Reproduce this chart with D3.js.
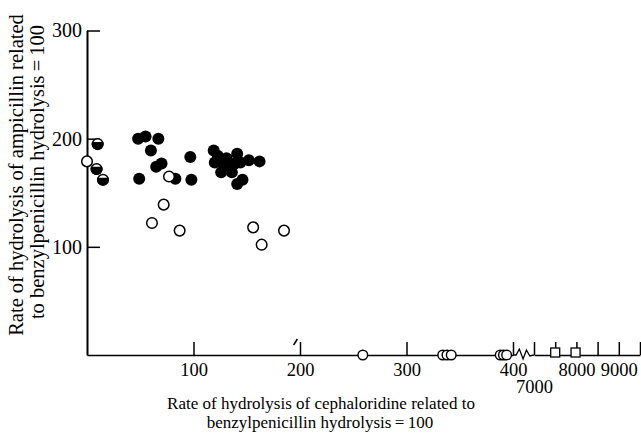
<!DOCTYPE html>
<html>
<head>
<meta charset="utf-8">
<script src="https://cdn.jsdelivr.net/npm/d3@7"></script>
<style>
  html, body { margin: 0; padding: 0; background: #fff; }
  svg { display: block; font-family: "Liberation Serif", "DejaVu Serif", serif; }
</style>
</head>
<body>
<svg id="chart" width="641" height="438"></svg>
<script>
// Strains: [cephaloridine rate, ampicillin rate], both relative to benzylpenicillin = 100
const filledPoints = [
  [48, 200], [55, 202], [60, 189], [67, 200], [65, 174], [70, 177],
  [97, 183], [49, 163], [83, 163], [98, 162],
  [119, 189], [123, 184], [120, 178], [128, 177], [126, 169], [133, 174],
  [136, 169], [141, 186], [139, 177], [144, 178], [152, 180], [162, 179],
  [141, 158], [146, 162], [131, 182]
];
const openPoints = [
  [0, 179], [77, 165], [72, 139], [61, 122], [87, 115],
  [156, 118], [164, 102], [185, 115]
];
const halfPoints = [[10, 195], [9, 172], [15, 162]];
// Strains with no measurable ampicillin hydrolysis, lying on the x axis
const zeroPoints = [259, 334, 338, 342, 388, 391, 394];
const zeroHighPoints = [7500, 7980];

const xTicksLow = [100, 200, 300, 400];
const xTicksHigh = [7000, 7500, 8000, 8500, 9000, 9500];
const xLabelsHigh = [7000, 8000, 9000];
const yTicks = [100, 200, 300];

const xTitle = ["Rate of hydrolysis of cephaloridine related to", "benzylpenicillin hydrolysis\u2009=\u2009100"];
const yTitle = ["Rate of  hydrolysis of ampicillin related", "to benzylpenicillin hydrolysis\u2009=\u2009100"];

const svg = d3.select("#chart");

const x = d3.scaleLinear().domain([0, 400]).range([87, 513]);
const x2 = d3.scaleLinear().domain([7000, 9500]).range([534, 640]);
const y = d3.scaleLinear().domain([0, 300]).range([355, 30.5]);

// Lower part of the x axis
const gx = svg.append("g").attr("transform", `translate(0,${y(0)})`)
  .call(d3.axisBottom(x).tickValues(xTicksLow).tickSizeInner(-13).tickSizeOuter(0).tickPadding(8));
// Upper part of the x axis, beyond the break
const gx2 = svg.append("g").attr("transform", `translate(0,${y(0)})`)
  .call(d3.axisBottom(x2).tickValues(xTicksHigh).tickSizeInner(-13).tickSizeOuter(0).tickPadding(8)
    .tickFormat(d => xLabelsHigh.includes(d) ? String(d) : ""));

const gy = svg.append("g").attr("transform", `translate(${x(0)},0)`)
  .call(d3.axisLeft(y).tickValues(yTicks).tickSizeInner(-13).tickSizeOuter(0).tickPadding(5));

[gx, gx2, gy].forEach(g => {
  g.selectAll("text").attr("font-family", "Liberation Serif").attr("font-size", "18.5px").attr("fill", "#000");
  g.selectAll("line").attr("stroke", "#000").attr("stroke-width", 1.5);
  g.select(".domain").attr("stroke", "#000").attr("stroke-width", 1.6);
});
gy.selectAll("text").attr("font-size", "20px");
gy.select(".domain").attr("stroke-width", 2);
// The 7000 label sits one line lower, under the break
gx2.selectAll(".tick").filter(d => d === 7000).select("text").attr("y", 25);

// Zigzag marking the scale break
const y0 = y(0);
const xa = x(400), xb = x2(7000);
const w = xb - xa;
svg.append("path")
  .attr("d", d3.line()([
    [xa, y0], [xa + w * 0.15, y0], [xa + w * 0.3, y0 - 6], [xa + w * 0.48, y0 + 4],
    [xa + w * 0.64, y0 - 5], [xa + w * 0.8, y0 + 1], [xb, y0]
  ]))
  .attr("fill", "none").attr("stroke", "#000").attr("stroke-width", 1.3);

// Small slash by the 200 tick
svg.append("line")
  .attr("x1", x(194)).attr("y1", y0 - 10)
  .attr("x2", x(197.5)).attr("y2", y0 - 16)
  .attr("stroke", "#000").attr("stroke-width", 1.5);

const r = 6;

svg.append("g").selectAll("circle").data(filledPoints).join("circle")
  .attr("cx", d => x(d[0])).attr("cy", d => y(d[1])).attr("r", r)
  .attr("fill", "#000");

svg.append("g").selectAll("circle").data(openPoints).join("circle")
  .attr("cx", d => x(d[0])).attr("cy", d => y(d[1])).attr("r", r - 0.7)
  .attr("fill", "#fff").attr("stroke", "#000").attr("stroke-width", 1.5);

// Half-filled markers: outlined circle with the lower part filled
const defs = svg.append("defs");
halfPoints.forEach((d, i) => {
  defs.append("clipPath").attr("id", "half" + i)
    .append("rect")
    .attr("x", x(d[0]) - r - 1).attr("y", y(d[1]) - r * 0.35)
    .attr("width", 2 * r + 2).attr("height", 2 * r);
});
const gh = svg.append("g");
gh.selectAll("circle.ring").data(halfPoints).join("circle")
  .attr("class", "ring")
  .attr("cx", d => x(d[0])).attr("cy", d => y(d[1])).attr("r", r - 0.7)
  .attr("fill", "#fff").attr("stroke", "#000").attr("stroke-width", 1.5);
gh.selectAll("circle.fill").data(halfPoints).join("circle")
  .attr("class", "fill")
  .attr("cx", d => x(d[0])).attr("cy", d => y(d[1])).attr("r", r)
  .attr("clip-path", (d, i) => `url(#half${i})`)
  .attr("fill", "#000");

svg.append("g").selectAll("circle").data(zeroPoints).join("circle")
  .attr("cx", d => x(d)).attr("cy", y0).attr("r", 4.8)
  .attr("fill", "#fff").attr("stroke", "#000").attr("stroke-width", 1.4);

svg.append("g").selectAll("rect").data(zeroHighPoints).join("rect")
  .attr("x", d => x2(d) - 4.5).attr("y", y0 - 7).attr("width", 9).attr("height", 9)
  .attr("fill", "#fff").attr("stroke", "#000").attr("stroke-width", 1.3);

// Axis titles
svg.append("g").selectAll("text").data(xTitle).join("text")
  .attr("x", (d, i) => i === 0 ? 321 : 320)
  .attr("y", (d, i) => 409 + i * 19)
  .attr("text-anchor", "middle")
  .attr("font-size", "17px").attr("fill", "#000")
  .text(d => d);

svg.append("g").selectAll("text").data(yTitle).join("text")
  .attr("transform", (d, i) => `translate(${23 + i * 21},${i === 0 ? 175 : 172}) rotate(-90)`)
  .attr("text-anchor", "middle")
  .attr("font-size", "20.5px").attr("fill", "#000")
  .text(d => d);
</script>
</body>
</html>
